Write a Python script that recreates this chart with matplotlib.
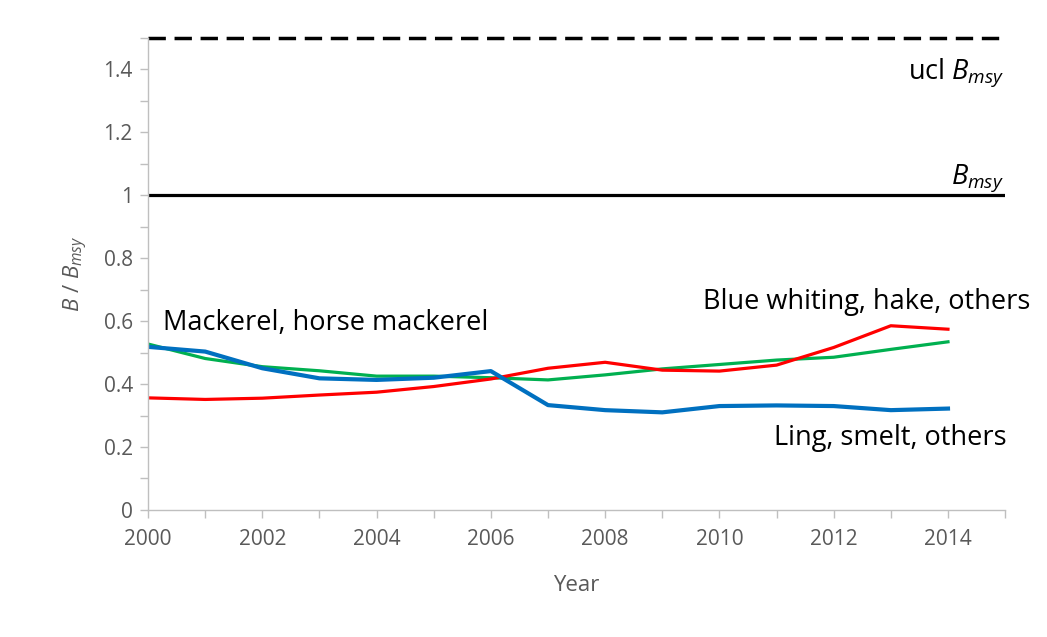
import numpy as np
import matplotlib.pyplot as plt
from matplotlib.ticker import MultipleLocator

plt.rcParams['font.family'] = ['Open Sans', 'DejaVu Sans']
plt.rcParams['mathtext.fontset'] = 'custom'
plt.rcParams['mathtext.rm'] = 'Open Sans'
plt.rcParams['mathtext.it'] = 'Open Sans:italic'

# Data
years = np.arange(2000, 2015)
ling = [0.518, 0.503, 0.450, 0.418, 0.413, 0.420, 0.441, 0.333, 0.317, 0.310,
        0.330, 0.332, 0.330, 0.317, 0.322]
blue_whiting = [0.356, 0.351, 0.355, 0.365, 0.374, 0.392, 0.416, 0.450, 0.469, 0.444,
                0.441, 0.460, 0.516, 0.585, 0.574]
mackerel = [0.527, 0.481, 0.455, 0.442, 0.425, 0.425, 0.420, 0.413, 0.429, 0.448,
            0.462, 0.476, 0.485, 0.510, 0.534]
bmsy = 1.0
ucl_bmsy = 1.5

fig = plt.figure(figsize=(10.47, 6.37), dpi=100)
ax = fig.add_axes([0.1414, 0.1994, 0.8186, 0.7416])

ax.plot(years, mackerel, color='#00B050', lw=2.3)
ax.plot(years, blue_whiting, color='#FF0000', lw=2.3)
ax.plot(years, ling, color='#0070C0', lw=3.0)

ax.axhline(bmsy, color='black', lw=2.3)
ax.axhline(ucl_bmsy, color='black', lw=2.5, ls=(0, (5, 2.5)), clip_on=False)

ax.set_xlim(2000, 2015)
ax.set_ylim(0, 1.5)
ax.xaxis.set_major_locator(MultipleLocator(2))
ax.xaxis.set_minor_locator(MultipleLocator(1))
ax.yaxis.set_minor_locator(MultipleLocator(0.1))
ax.set_yticks([0, 0.2, 0.4, 0.6, 0.8, 1.0, 1.2, 1.4])
ax.set_yticklabels(['0', '0.2', '0.4', '0.6', '0.8', '1', '1.2', '1.4'])

for s in ['top', 'right']:
    ax.spines[s].set_visible(False)
for s in ['left', 'bottom']:
    ax.spines[s].set_color('#BFBFBF')
    ax.spines[s].set_linewidth(1.0)

ax.tick_params(which='both', direction='out', color='#BFBFBF', length=6, width=1,
               labelcolor='#595959', labelsize=15)
ax.tick_params(axis='x', which='both', pad=8)
ax.tick_params(axis='y', which='both', pad=5)

ax.set_xlabel('Year', fontsize=16, color='#595959', labelpad=18)
ax.set_ylabel('$\\it{B}$ / $\\it{B}_{\\it{msy}}$', fontsize=16, color='#595959', labelpad=10)

ax.text(2000.26, 0.594, 'Mackerel, horse mackerel', fontsize=19.5, ha='left', va='center')
ax.text(2015.45, 0.66, 'Blue whiting, hake, others', fontsize=19.5, ha='right', va='center',
        clip_on=False)
ax.text(2015.02, 0.229, 'Ling, smelt, others', fontsize=19.5, ha='right', va='center',
        clip_on=False)
ax.text(2014.98, 1.387, 'ucl $\\it{B}_{\\it{msy}}$', fontsize=19.5, ha='right', va='center',
        clip_on=False)
ax.text(2014.98, 1.054, '$\\it{B}_{\\it{msy}}$', fontsize=19.5, ha='right', va='center',
        clip_on=False)

fig.savefig('out.png', dpi=100)
